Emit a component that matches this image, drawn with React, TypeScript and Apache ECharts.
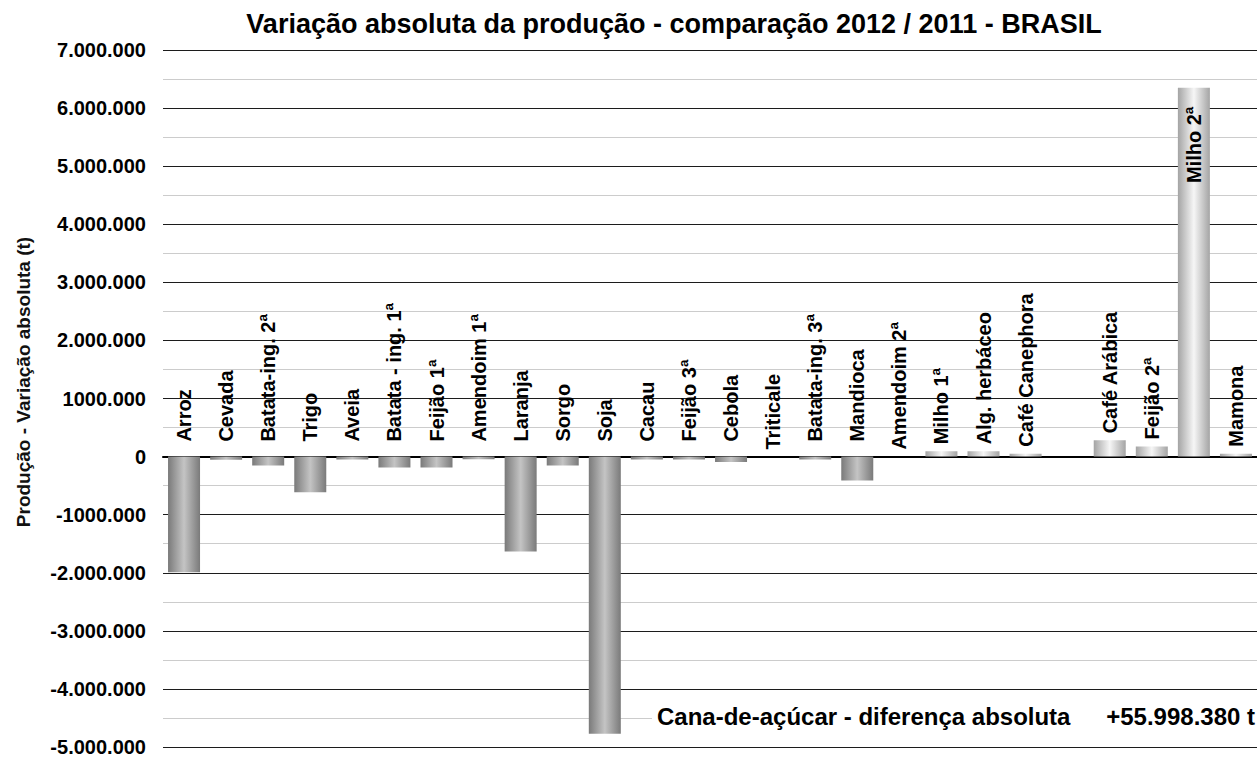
import React, { useEffect, useRef } from "react";
import * as echarts from "echarts";

const categories = [
  "Arroz", "Cevada", "Batata-ing. 2ª", "Trigo", "Aveia", "Batata - ing. 1ª",
  "Feijão 1ª", "Amendoim 1ª", "Laranja", "Sorgo", "Soja", "Cacau", "Feijão 3ª",
  "Cebola", "Triticale", "Batata-ing. 3ª", "Mandioca", "Amendoim 2ª", "Milho 1ª",
  "Alg. herbáceo", "Café Canephora", "", "Café Arábica", "Feijão 2ª", "Milho 2ª", "Mamona",
];

const values: (number | null)[] = [
  -1990000, -55000, -155000, -615000, -50000, -190000,
  -190000, -45000, -1635000, -155000, -4770000, -50000, -50000,
  -95000, 0, -50000, -410000, 0, 90000,
  90000, 50000, null, 280000, 175000, 6350000, 50000,
];

const yMin = -5000000;
const yMax = 7000000;
const yInterval = 1000000;
const yTickLabels = [
  "-5.000.000", "-4.000.000", "-3.000.000", "-2.000.000", "-1000.000", "0",
  "1000.000", "2.000.000", "3.000.000", "4.000.000", "5.000.000", "6.000.000", "7.000.000",
];

const titleText = "Variação absoluta da produção - comparação 2012 / 2011 - BRASIL";
const yAxisName = "Produção - Variação absoluta (t)";
const noteLabel = "Cana-de-açúcar - diferença absoluta";
const noteValue = "+55.998.380 t";

const FONT = "'Liberation Sans', Arial, sans-serif";

export default function App() {
  const ref = useRef<HTMLDivElement>(null);

  useEffect(() => {
    if (!ref.current) return;
    const chart = echarts.init(ref.current, undefined, { renderer: "svg" });

    const negGrad = () =>
      new echarts.graphic.LinearGradient(0, 0, 1, 0, [
        { offset: 0, color: "#7a7a7a" },
        { offset: 0.5, color: "#c4c4c4" },
        { offset: 1, color: "#7a7a7a" },
      ]);
    const posGrad = () =>
      new echarts.graphic.LinearGradient(0, 0, 1, 0, [
        { offset: 0, color: "#a4a4a4" },
        { offset: 0.5, color: "#f6f6f6" },
        { offset: 1, color: "#a4a4a4" },
      ]);

    const barData = values.map((v) =>
      v === null ? null : { value: v, itemStyle: { color: v < 0 ? negGrad() : posGrad() } }
    );

    const labelData = values.map((v) => {
      if (v === null) return null;
      if (v < 0) return { value: 0, label: { distance: 18 } };
      if (v > 3000000)
        return { value: v, label: { position: "insideTop", align: "right", distance: 16 } };
      return { value: v, label: { distance: 10 } };
    });

    chart.setOption({
      animation: false,
      backgroundColor: "#ffffff",
      grid: { left: 163, right: -11, top: 50, bottom: 11, containLabel: false },
      xAxis: {
        type: "category",
        data: categories,
        axisLine: { show: true, onZero: true, lineStyle: { color: "#000", width: 2 } },
        axisTick: { show: false },
        axisLabel: { show: false },
        splitLine: { show: false },
      },
      yAxis: {
        type: "value",
        min: yMin,
        max: yMax,
        interval: yInterval,
        splitNumber: 12,
        minorSplitLine: { show: true, lineStyle: { color: "#cccccc", width: 1 } },
        minorTick: { show: false, splitNumber: 2 },
        splitLine: { show: true, lineStyle: { color: "#1c1c1c", width: 1 } },
        axisLine: { show: false },
        axisTick: { show: false },
        axisLabel: {
          margin: 17,
          fontSize: 20,
          fontWeight: "bold",
          fontFamily: FONT,
          color: "#000",
          formatter: (v: number) => yTickLabels[Math.round((v - yMin) / yInterval)] ?? "",
        },
      },
      series: [
        {
          type: "bar",
          data: barData,
          barWidth: 32,
          z: 2,
          silent: true,
        },
        {
          type: "bar",
          data: labelData,
          barWidth: 32,
          barGap: "-100%",
          z: 3,
          silent: true,
          itemStyle: { color: "rgba(0,0,0,0)" },
          label: {
            show: true,
            position: "top",
            rotate: 90,
            align: "left",
            verticalAlign: "middle",
            offset: [-3, 0],
            formatter: (p: any) => p.name,
            fontSize: 20,
            fontWeight: "bold",
            fontFamily: FONT,
            color: "#000",
          },
        },
      ],
      graphic: [
        {
          type: "text",
          x: 674,
          y: 24,
          style: {
            text: titleText,
            fontSize: 27,
            fontWeight: "bold",
            fontFamily: FONT,
            fill: "#000",
            align: "center",
            verticalAlign: "middle",
          },
        },
        {
          type: "text",
          x: 23,
          y: 382,
          rotation: Math.PI / 2,
          style: {
            text: yAxisName,
            fontSize: 19,
            fontWeight: "bold",
            fontFamily: FONT,
            fill: "#111",
            align: "center",
            verticalAlign: "middle",
          },
        },
        {
          type: "rect",
          shape: { x: 652, y: 703, width: 605, height: 26 },
          style: { fill: "#ffffff" },
          z: 10,
        },
        {
          type: "text",
          x: 657,
          y: 716,
          z: 11,
          style: {
            text: noteLabel,
            fontSize: 24,
            fontWeight: "bold",
            fontFamily: FONT,
            fill: "#000",
            align: "left",
            verticalAlign: "middle",
          },
        },
        {
          type: "text",
          x: 1255,
          y: 716,
          z: 11,
          style: {
            text: noteValue,
            fontSize: 24,
            fontWeight: "bold",
            fontFamily: FONT,
            fill: "#000",
            align: "right",
            verticalAlign: "middle",
          },
        },
      ],
    });

    return () => chart.dispose();
  }, []);

  return (
    <div
      ref={ref}
      style={{ position: "fixed", left: 0, top: 0, width: 1257, height: 758, background: "#fff" }}
    />
  );
}
